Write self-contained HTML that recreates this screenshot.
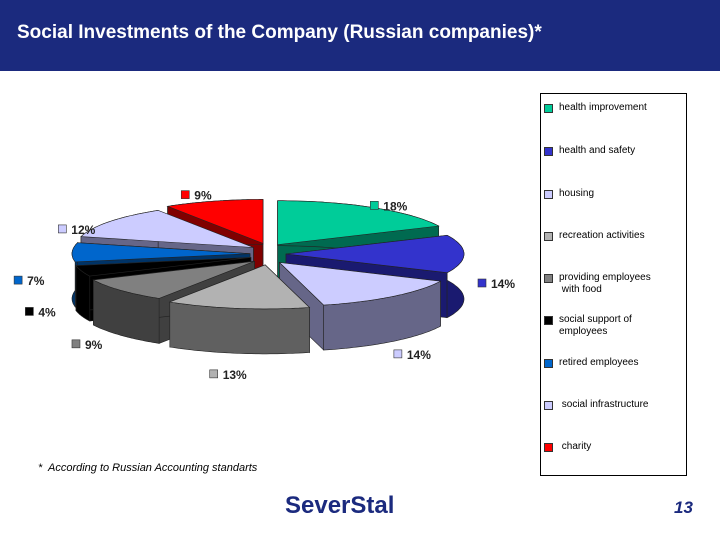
<!DOCTYPE html>
<html><head><meta charset="utf-8"><style>
body{margin:0;width:720px;height:540px;background:#fff;font-family:"Liberation Sans",sans-serif;position:relative;overflow:hidden}
#hdr{position:absolute;left:0;top:0;width:720px;height:71px;background:#1b2a7e}
#hdr h1{position:absolute;left:17px;top:22px;margin:0;color:#fff;font-size:19px;font-weight:bold}
#legend{position:absolute;left:540px;top:93px;width:147px;height:383px;border:1px solid #000;box-sizing:border-box}
.li{position:absolute;font-size:10px;color:#000;line-height:12px}
.li i{position:absolute;left:-15px;top:2px;width:7px;height:7px;border:1px solid #333}
#note{position:absolute;left:38px;top:462px;font-size:11px;font-style:italic}
#logo{position:absolute;left:285px;top:492px;font-size:24px;font-weight:bold;color:#1b2a7e}
#pg{position:absolute;left:674px;top:498px;font-size:17px;font-style:italic;font-weight:bold;color:#1b2a7e}
</style></head><body>
<div id="hdr"><h1>Social Investments of the Company (Russian companies)*</h1></div>
<svg id="pie" width="720" height="540" style="position:absolute;left:0;top:0"></svg>
<div id="legend"></div>
<div id="note">*&nbsp; According to Russian Accounting standarts</div>
<div id="logo">SeverStal</div>
<div id="pg">13</div>
<script>
const categories=["health improvement","health and safety","housing","recreation activities","providing employees with food","social support of employees","retired employees","social infrastructure","charity"];
const legendLabels=["health improvement","health and safety","housing","recreation activities","providing employees<br>&nbsp;with food","social support of<br>employees","retired employees","&nbsp;social infrastructure","&nbsp;charity"];
const values=[18,14,14,13,9,4,7,12,9];
const topColors=["#00cc99","#3333cc","#ccccff","#b2b2b2","#808080","#000000","#0066cc","#ccccff","#ff0000"];
const sideColors=["#006a50","#1a1a70","#666688","#606060","#404040","#000000","#003366","#666688","#800000"];
const svg=document.getElementById('pie');const NS='http://www.w3.org/2000/svg';
const cx=268,cy=254,rx=178,ry=44,depth=45,explX=18,explY=11;
const total=values.reduce((a,b)=>a+b,0);
function pt(c,a,r1,r2){return [c[0]+r1*Math.sin(a),c[1]-r2*Math.cos(a)];}
let acc=0;const slices=values.map((v,i)=>{const a0=acc/total*2*Math.PI;acc+=v;const a1=acc/total*2*Math.PI;const m=(a0+a1)/2;const c=[cx+explX*Math.sin(m),cy-explY*Math.cos(m)];return{i,a0,a1,m,c};});
function poly(points,fill,name){const p=document.createElementNS(NS,'path');p.setAttribute('d','M'+points.map(q=>q[0].toFixed(1)+','+q[1].toFixed(1)).join('L')+'Z');p.setAttribute('fill',fill);p.setAttribute('stroke','#222');p.setAttribute('stroke-width','0.6');svg.appendChild(p);}
const order=slices.slice().sort((a,b)=>(-Math.cos(a.m))-(-Math.cos(b.m)));
order.forEach(s=>{const i=s.i,c=s.c;const N=40;const arc=[];for(let k=0;k<=N;k++){arc.push(pt(c,s.a0+(s.a1-s.a0)*k/N,rx,ry));}
 const down=q=>[q[0],q[1]+depth];
 poly([c,arc[0],down(arc[0]),down(c)],sideColors[i],'slice-wall-'+i);
 poly([c,arc[N],down(arc[N]),down(c)],sideColors[i],'slice-wall-end-'+i);
 poly(arc.concat(arc.slice().reverse().map(down)),sideColors[i],'slice-side-'+i);
 poly([c].concat(arc),topColors[i],'slice-'+i);
});
slices.forEach(s=>{const i=s.i;const p=pt([cx,cy+30],s.m,232,92);
 const r=document.createElementNS(NS,'rect');r.setAttribute('x',p[0]-22);r.setAttribute('y',p[1]-5);r.setAttribute('width',8);r.setAttribute('height',8);r.setAttribute('fill',topColors[i]);r.setAttribute('stroke','#333');r.setAttribute('stroke-width','0.6');
 
 svg.appendChild(r);
 const t=document.createElementNS(NS,'text');t.setAttribute('x',p[0]-9);t.setAttribute('y',p[1]+4);t.setAttribute('font-size','12');t.setAttribute('font-weight','bold');t.setAttribute('fill','#222');t.textContent=values[i]+'%';
 
 svg.appendChild(t);});
const lg=document.getElementById('legend');
const ly=[8,51,94,136,178,220,263,305,347];
categories.forEach((c,i)=>{const d=document.createElement('div');d.className='li';d.style.left='18px';d.style.top=ly[i]+'px';d.innerHTML='<i style="background:'+topColors[i]+'"></i>'+legendLabels[i];
 
 lg.appendChild(d);});
</script>
</body></html>
